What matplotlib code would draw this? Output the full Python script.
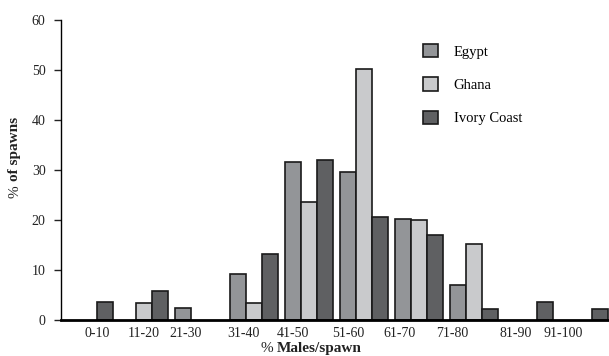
import numpy as np
import matplotlib.pyplot as plt

# data
categories = ['0-10', '11-20', '21-30', '31-40', '41-50',
              '51-60', '61-70', '71-80', '81-90', '91-100']
egypt = [0, 0, 2.5, 9.3, 31.6, 29.6, 20.3, 7.0, 0, 0]
ghana = [0, 3.5, 0, 3.5, 23.6, 50.1, 20.1, 15.3, 0, 0]
ivory_coast = [3.7, 5.9, 0, 13.2, 32.0, 20.7, 17.1, 2.2, 3.7, 2.2]

# label positions are shifted a bit from the bar groups in the original
label_pos = [0.15, 1.0, 1.75, 2.8, 3.71, 4.71, 5.65, 6.6, 7.75, 8.62]

plt.rcParams['font.family'] = ['Liberation Serif', 'DejaVu Serif']

fig = plt.figure(figsize=(6.09, 3.56), dpi=100)
ax = fig.add_axes([0.100, 0.101, 0.900, 0.843])

x = np.arange(len(categories))
w = 0.29
series = [('Egypt', egypt, '#939598', -w),
          ('Ghana', ghana, '#c9cacc', 0),
          ('Ivory Coast', ivory_coast, '#5f6062', w)]

handles = []
for name, vals, col, off in series:
    vals = np.array(vals, dtype=float)
    keep = vals > 0
    bars = ax.bar(x[keep] + off, vals[keep], width=w, color=col,
                  edgecolor='#1a1a1a', linewidth=1.2, label=name, zorder=2)
    handles.append(bars)

ax.set_xlim(-0.51, 9.45)
ax.set_ylim(0, 60)
ax.set_yticks(range(0, 61, 10))
ax.set_xticks(label_pos)
ax.set_xticklabels(categories)
ax.tick_params(axis='x', length=0, pad=5, labelsize=10, colors='#222222')
ax.tick_params(axis='y', length=5, width=1, pad=6, labelsize=10,
               colors='#222222', direction='out')

for s in ['top', 'right']:
    ax.spines[s].set_visible(False)
ax.spines['left'].set_linewidth(1.0)
ax.spines['bottom'].set_linewidth(2.0)
ax.spines['bottom'].set_zorder(3)

# axis labels: the '%' is in regular weight, the rest bold
fig.text(0.024, 1 - 185 / 356, '%', rotation=90, ha='center', va='top',
         fontsize=11, color='#222222')
fig.text(0.024, 1 - 181 / 356, 'of spawns', rotation=90, ha='center',
         va='bottom', fontsize=11, fontweight='bold', color='#222222')
fig.text(273 / 609, 0.022, '%', ha='right', va='center', fontsize=11,
         color='#222222')
fig.text(277 / 609, 0.022, 'Males/spawn', ha='left', va='center',
         fontsize=11, fontweight='bold', color='#222222')

ax.legend(handles=handles, loc='upper left',
          bbox_to_anchor=(423 / 609, 1 - 44 / 356),
          bbox_transform=fig.transFigure, frameon=False,
          fontsize=10.5, handlelength=1.0, handleheight=1.0,
          handletextpad=1.1, labelspacing=1.3, borderpad=0,
          borderaxespad=0)

plt.savefig('out.png', dpi=100)
